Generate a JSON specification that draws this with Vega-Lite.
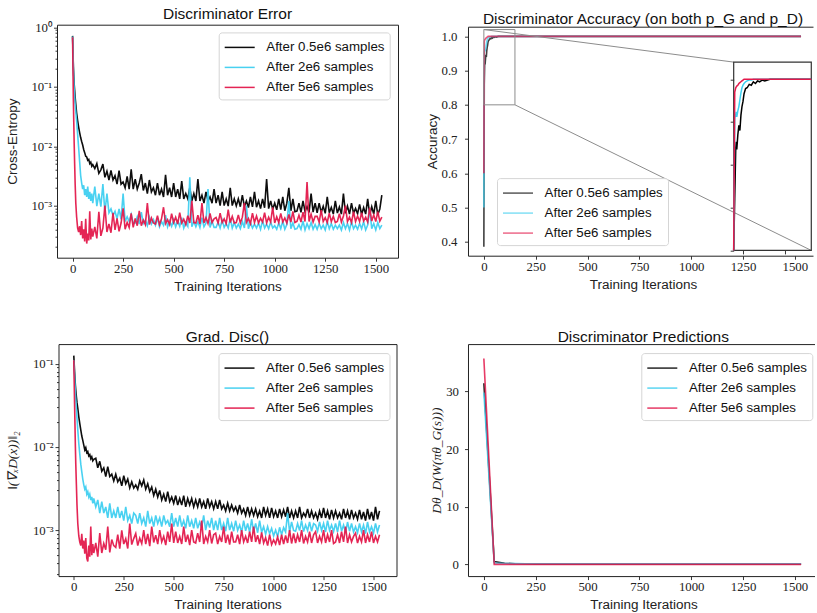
{
"$schema":"https://vega.github.io/schema/vega-lite/v6.json",
"background":"white",
"padding":{"left":4,"top":5.7,"right":0,"bottom":0},
"datasets":{
"ce":[
{"t":0,"a":0.72,"b":0.70,"c":0.68,"d":0.125,"e":0.11,"f":0.11},
{"t":2,"a":0.40,"b":0.38,"c":0.20,"d":0.10,"e":0.088,"f":0.06},
{"t":4,"a":0.22,"b":0.20,"c":0.06,"d":0.08,"e":0.07,"f":0.032},
{"t":6,"a":0.15,"b":0.13,"c":0.025,"d":0.066,"e":0.056,"f":0.018},
{"t":8,"a":0.11,"b":0.09,"c":0.011,"d":0.055,"e":0.045,"f":0.01},
{"t":10,"a":0.09,"b":0.07,"c":0.0055,"d":0.048,"e":0.037,"f":0.0062},
{"t":13,"a":0.065,"b":0.05,"c":0.0022,"d":0.04,"e":0.029,"f":0.0035},
{"t":16,"a":0.05,"b":0.038,"c":0.0011,"d":0.034,"e":0.022,"f":0.002},
{"t":20,"a":0.036,"b":0.027,"c":6.5e-4,"d":0.029,"e":0.016,"f":0.0012},
{"t":25,"a":0.027,"b":0.016,"c":4.2e-4,"d":0.023,"e":0.011,"f":8.5e-4},
{"t":30,"a":0.021,"b":0.0095,"c":3.6e-4,"d":0.019,"e":0.0082,"f":7.2e-4},
{"t":35,"a":0.017,"b":0.0055,"c":4.5e-4,"d":0.016,"e":0.0062,"f":6.5e-4},
{"t":40,"a":0.014,"b":0.0032,"c":3.2e-4,"d":0.0135,"e":0.005,"f":9.0e-4},
{"t":45,"a":0.012,"b":0.0024,"c":5.5e-4,"d":0.012,"e":0.0041,"f":6.0e-4},
{"t":50,"a":0.0105,"b":0.0019,"c":2.8e-4,"d":0.0105,"e":0.0035,"f":7.5e-4},
{"t":55,"a":0.0088,"b":0.0022,"c":4.0e-4,"d":0.0092,"e":0.0031,"f":5.2e-4},
{"t":60,"a":0.0078,"b":0.0015,"c":2.5e-4,"d":0.0098,"e":0.0033,"f":8.0e-4},
{"t":65,"a":0.0068,"b":0.0019,"c":6.0e-4,"d":0.0085,"e":0.0027,"f":4.6e-4},
{"t":70,"a":0.0066,"b":0.0014,"c":2.3e-4,"d":0.0088,"e":0.0029,"f":4.2e-4},
{"t":75,"a":0.0058,"b":0.0021,"c":3.4e-4,"d":0.0078,"e":0.0025,"f":6.5e-4},
{"t":80,"a":0.006,"b":0.0013,"c":2.6e-4,"d":0.0081,"e":0.0027,"f":4.8e-4},
{"t":85,"a":0.0051,"b":0.0017,"c":8.0e-4,"d":0.0072,"e":0.0023,"f":1.1e-3},
{"t":90,"a":0.0054,"b":0.0012,"c":2.7e-4,"d":0.0076,"e":0.0025,"f":5.0e-4},
{"t":95,"a":0.0046,"b":0.0016,"c":4.1e-4,"d":0.0068,"e":0.0021,"f":6.8e-4},
{"t":100,"a":0.0049,"b":0.0011,"c":3.0e-4,"d":0.0071,"e":0.0024,"f":5.3e-4},
{"t":110,"a":4.2e-3,"b":2.1e-3,"c":4.4e-4,"d":7.3e-3,"e":1.9e-3,"f":7.0e-4},
{"t":120,"a":5.1e-3,"b":9.8e-4,"c":2.8e-4,"d":5.6e-3,"e":2.3e-3,"f":4.8e-4},
{"t":130,"a":3.5e-3,"b":1.6e-3,"c":7.9e-4,"d":6.7e-3,"e":1.6e-3,"f":9.2e-4},
{"t":140,"a":4.0e-3,"b":9.6e-4,"c":3.1e-4,"d":5.1e-3,"e":2.2e-3,"f":5.3e-4},
{"t":150,"a":5.0e-3,"b":2.3e-3,"c":4.2e-4,"d":5.6e-3,"e":1.6e-3,"f":6.9e-4},
{"t":160,"a":3.0e-3,"b":7.7e-4,"c":1.0e-3,"d":4.4e-3,"e":1.9e-3,"f":5.8e-4},
{"t":170,"a":3.8e-3,"b":1.6e-3,"c":3.6e-4,"d":5.8e-3,"e":1.4e-3,"f":1.1e-3},
{"t":180,"a":2.7e-3,"b":7.6e-4,"c":4.9e-4,"d":4.4e-3,"e":2.1e-3,"f":5.4e-4},
{"t":190,"a":3.9e-3,"b":8.8e-4,"c":3.5e-4,"d":4.7e-3,"e":1.4e-3,"f":7.7e-4},
{"t":200,"a":2.7e-3,"b":6.8e-4,"c":7.6e-4,"d":3.9e-3,"e":1.7e-3,"f":6.5e-4},
{"t":210,"a":3.2e-3,"b":8.0e-4,"c":3.9e-4,"d":4.7e-3,"e":1.4e-3,"f":6.2e-4},
{"t":220,"a":2.3e-3,"b":6.0e-4,"c":6.1e-4,"d":3.8e-3,"e":1.9e-3,"f":8.8e-4},
{"t":230,"a":3.9e-3,"b":8.8e-4,"c":3.7e-4,"d":4.2e-3,"e":1.4e-3,"f":6.0e-4},
{"t":240,"a":2.3e-3,"b":5.9e-4,"c":5.1e-4,"d":3.4e-3,"e":1.7e-3,"f":9.9e-4},
{"t":250,"a":2.5e-3,"b":1.6e-3,"c":9.0e-4,"d":4.5e-3,"e":1.3e-3,"f":6.8e-4},
{"t":260,"a":2.0e-3,"b":5.4e-4,"c":4.0e-4,"d":3.6e-3,"e":1.9e-3,"f":7.9e-4},
{"t":270,"a":3.1e-3,"b":6.5e-4,"c":5.2e-4,"d":4.1e-3,"e":1.3e-3,"f":6.0e-4},
{"t":280,"a":1.9e-3,"b":5.4e-4,"c":4.3e-4,"d":3.2e-3,"e":1.5e-3,"f":1.2e-3},
{"t":290,"a":4.1e-3,"b":7.1e-4,"c":7.4e-4,"d":3.8e-3,"e":1.2e-3,"f":6.7e-4},
{"t":300,"a":1.9e-3,"b":5.1e-4,"c":4.3e-4,"d":3.2e-3,"e":1.6e-3,"f":7.9e-4},
{"t":310,"a":2.8e-3,"b":5.1e-4,"c":6.1e-4,"d":3.5e-3,"e":1.5e-3,"f":9.1e-4},
{"t":320,"a":1.9e-3,"b":6.5e-4,"c":4.6e-4,"d":3.1e-3,"e":1.2e-3,"f":6.5e-4},
{"t":330,"a":2.4e-3,"b":4.9e-4,"c":8.2e-4,"d":3.9e-3,"e":1.6e-3,"f":8.0e-4},
{"t":340,"a":3.4e-3,"b":7.8e-4,"c":4.6e-4,"d":3.4e-3,"e":1.2e-3,"f":6.9e-4},
{"t":350,"a":1.8e-3,"b":5.0e-4,"c":5.7e-4,"d":4.0e-3,"e":1.4e-3,"f":1.0e-3},
{"t":360,"a":2.4e-3,"b":5.7e-4,"c":4.8e-4,"d":3.1e-3,"e":1.1e-3,"f":6.8e-4},
{"t":370,"a":1.6e-3,"b":4.6e-4,"c":1.1e-3,"d":3.6e-3,"e":1.7e-3,"f":9.0e-4},
{"t":380,"a":2.7e-3,"b":6.4e-4,"c":4.8e-4,"d":2.9e-3,"e":1.2e-3,"f":6.4e-4},
{"t":390,"a":1.7e-3,"b":4.9e-4,"c":6.2e-4,"d":3.3e-3,"e":1.4e-3,"f":1.1e-3},
{"t":400,"a":2.0e-3,"b":5.8e-4,"c":5.1e-4,"d":2.6e-3,"e":1.1e-3,"f":7.1e-4},
{"t":410,"a":1.5e-3,"b":4.7e-4,"c":4.9e-4,"d":3.1e-3,"e":1.5e-3,"f":8.7e-4},
{"t":420,"a":2.4e-3,"b":6.2e-4,"c":6.8e-4,"d":2.5e-3,"e":1.2e-3,"f":6.8e-4},
{"t":430,"a":1.5e-3,"b":4.4e-4,"c":4.8e-4,"d":3.0e-3,"e":1.4e-3,"f":1.0e-3},
{"t":440,"a":1.9e-3,"b":5.4e-4,"c":6.0e-4,"d":2.3e-3,"e":1.1e-3,"f":7.2e-4},
{"t":450,"a":1.4e-3,"b":4.7e-4,"c":9.4e-4,"d":2.7e-3,"e":1.5e-3,"f":8.4e-4},
{"t":460,"a":3.3e-3,"b":6.9e-4,"c":5.0e-4,"d":2.2e-3,"e":1.2e-3,"f":6.6e-4},
{"t":470,"a":1.5e-3,"b":4.4e-4,"c":5.8e-4,"d":2.9e-3,"e":1.3e-3,"f":9.6e-4},
{"t":480,"a":2.0e-3,"b":5.5e-4,"c":4.8e-4,"d":2.2e-3,"e":1.1e-3,"f":7.2e-4},
{"t":490,"a":1.4e-3,"b":4.5e-4,"c":7.3e-4,"d":2.5e-3,"e":1.6e-3,"f":1.2e-3},
{"t":500,"a":2.4e-3,"b":5.8e-4,"c":5.2e-4,"d":2.1e-3,"e":1.1e-3,"f":7.0e-4},
{"t":510,"a":1.4e-3,"b":4.4e-4,"c":6.4e-4,"d":2.6e-3,"e":1.4e-3,"f":9.6e-4},
{"t":520,"a":1.9e-3,"b":5.5e-4,"c":4.9e-4,"d":2.0e-3,"e":1.1e-3,"f":7.0e-4},
{"t":530,"a":1.3e-3,"b":4.5e-4,"c":7.6e-4,"d":2.4e-3,"e":1.5e-3,"f":8.4e-4},
{"t":540,"a":2.6e-3,"b":6.3e-4,"c":5.1e-4,"d":2.0e-3,"e":1.1e-3,"f":6.8e-4},
{"t":550,"a":1.3e-3,"b":4.2e-4,"c":5.9e-4,"d":2.6e-3,"e":1.3e-3,"f":1.1e-3},
{"t":560,"a":1.6e-3,"b":5.2e-4,"c":4.8e-4,"d":1.9e-3,"e":1.05e-3,"f":7.2e-4},
{"t":570,"a":1.3e-3,"b":4.5e-4,"c":6.8e-4,"d":2.4e-3,"e":1.5e-3,"f":8.8e-4},
{"t":580,"a":2.0e-3,"b":3.0e-3,"c":5.1e-4,"d":2.0e-3,"e":1.1e-3,"f":6.6e-4},
{"t":590,"a":1.2e-3,"b":4.4e-4,"c":1.2e-3,"d":2.4e-3,"e":1.3e-3,"f":1.0e-3},
{"t":600,"a":1.6e-3,"b":5.4e-4,"c":5.2e-4,"d":1.9e-3,"e":1.05e-3,"f":7.2e-4},
{"t":610,"a":1.2e-3,"b":4.4e-4,"c":5.1e-4,"d":2.3e-3,"e":1.4e-3,"f":7.0e-4},
{"t":620,"a":2.8e-3,"b":5.4e-4,"c":6.9e-4,"d":1.9e-3,"e":1.05e-3,"f":9.2e-4},
{"t":630,"a":1.2e-3,"b":4.3e-4,"c":4.9e-4,"d":2.4e-3,"e":1.25e-3,"f":7.2e-4},
{"t":640,"a":1.5e-3,"b":6.3e-4,"c":1.1e-3,"d":1.9e-3,"e":1.07e-3,"f":1.3e-3},
{"t":650,"a":1.1e-3,"b":4.4e-4,"c":5.1e-4,"d":2.2e-3,"e":1.5e-3,"f":6.8e-4},
{"t":660,"a":1.7e-3,"b":5.1e-4,"c":6.3e-4,"d":1.8e-3,"e":1.0e-3,"f":8.4e-4},
{"t":670,"a":1.2e-3,"b":1.9e-3,"c":5.0e-4,"d":2.4e-3,"e":1.3e-3,"f":7.2e-4},
{"t":680,"a":1.4e-3,"b":4.3e-4,"c":7.4e-4,"d":1.9e-3,"e":1.07e-3,"f":1.0e-3},
{"t":690,"a":1.1e-3,"b":5.5e-4,"c":5.2e-4,"d":2.2e-3,"e":1.4e-3,"f":6.9e-4},
{"t":700,"a":1.9e-3,"b":4.3e-4,"c":6.0e-4,"d":1.8e-3,"e":1.0e-3,"f":8.8e-4},
{"t":710,"a":1.1e-3,"b":4.3e-4,"c":6.3e-4,"d":2.2e-3,"e":1.3e-3,"f":9.2e-4},
{"t":720,"a":1.5e-3,"b":5.3e-4,"c":5.1e-4,"d":1.8e-3,"e":1.0e-3,"f":6.8e-4},
{"t":730,"a":1.0e-3,"b":4.2e-4,"c":7.5e-4,"d":2.3e-3,"e":1.4e-3,"f":8.4e-4},
{"t":740,"a":1.7e-3,"b":5.7e-4,"c":5.2e-4,"d":1.8e-3,"e":1.0e-3,"f":7.2e-4},
{"t":750,"a":1.0e-3,"b":4.3e-4,"c":6.0e-4,"d":2.0e-3,"e":1.2e-3,"f":1.1e-3},
{"t":760,"a":1.3e-3,"b":5.0e-4,"c":5.0e-4,"d":1.7e-3,"e":9.7e-4,"f":7.0e-4},
{"t":770,"a":9.8e-4,"b":4.2e-4,"c":8.6e-4,"d":2.1e-3,"e":1.4e-3,"f":8.8e-4},
{"t":780,"a":2.0e-3,"b":6.1e-4,"c":5.2e-4,"d":1.7e-3,"e":1.0e-3,"f":6.7e-4},
{"t":790,"a":1.0e-3,"b":4.2e-4,"c":6.6e-4,"d":2.0e-3,"e":1.2e-3,"f":9.6e-4},
{"t":800,"a":1.3e-3,"b":5.2e-4,"c":5.1e-4,"d":1.7e-3,"e":9.7e-4,"f":7.2e-4},
{"t":810,"a":9.9e-4,"b":4.2e-4,"c":5.2e-4,"d":1.9e-3,"e":1.3e-3,"f":7.2e-4},
{"t":820,"a":1.3e-3,"b":4.9e-4,"c":7.0e-4,"d":1.6e-3,"e":9.9e-4,"f":8.8e-4},
{"t":830,"a":9.6e-4,"b":4.1e-4,"c":5.1e-4,"d":2.0e-3,"e":1.15e-3,"f":6.8e-4},
{"t":840,"a":1.5e-3,"b":5.4e-4,"c":6.4e-4,"d":1.6e-3,"e":9.4e-4,"f":1.0e-3},
{"t":850,"a":9.7e-4,"b":4.2e-4,"c":1.1e-3,"d":1.8e-3,"e":1.3e-3,"f":7.2e-4},
{"t":860,"a":1.2e-3,"b":1.0e-3,"c":5.2e-4,"d":1.5e-3,"e":9.8e-4,"f":8.4e-4},
{"t":870,"a":9.3e-4,"b":4.1e-4,"c":6.1e-4,"d":1.9e-3,"e":1.2e-3,"f":7.0e-4},
{"t":880,"a":1.4e-3,"b":5.2e-4,"c":5.0e-4,"d":1.5e-3,"e":9.4e-4,"f":9.6e-4},
{"t":890,"a":9.5e-4,"b":4.2e-4,"c":7.5e-4,"d":1.8e-3,"e":1.35e-3,"f":7.2e-4},
{"t":900,"a":1.7e-3,"b":4.9e-4,"c":5.2e-4,"d":1.5e-3,"e":9.6e-4,"f":1.1e-3},
{"t":910,"a":9.4e-4,"b":4.2e-4,"c":6.7e-4,"d":1.8e-3,"e":1.2e-3,"f":7.2e-4},
{"t":920,"a":1.2e-3,"b":5.1e-4,"c":5.1e-4,"d":1.45e-3,"e":9.3e-4,"f":8.7e-4},
{"t":930,"a":8.9e-4,"b":4.0e-4,"c":6.1e-4,"d":1.7e-3,"e":1.3e-3,"f":6.8e-4},
{"t":940,"a":1.3e-3,"b":5.6e-4,"c":5.3e-4,"d":1.4e-3,"e":9.4e-4,"f":9.4e-4},
{"t":950,"a":9.2e-4,"b":4.2e-4,"c":7.6e-4,"d":1.9e-3,"e":1.1e-3,"f":7.0e-4},
{"t":960,"a":2.8e-3,"b":4.9e-4,"c":5.1e-4,"d":1.5e-3,"e":8.9e-4,"f":8.1e-4},
{"t":970,"a":8.9e-4,"b":4.1e-4,"c":6.4e-4,"d":1.8e-3,"e":1.1e-3,"f":6.5e-4},
{"t":980,"a":1.2e-3,"b":5.3e-4,"c":5.3e-4,"d":1.4e-3,"e":9.0e-4,"f":8.8e-4},
{"t":990,"a":8.7e-4,"b":4.2e-4,"c":9.4e-4,"d":1.85e-3,"e":1.05e-3,"f":6.7e-4},
{"t":1000,"a":1.1e-3,"b":4.6e-4,"c":5.1e-4,"d":1.45e-3,"e":8.5e-4,"f":7.6e-4},
{"t":1010,"a":8.5e-4,"b":4.0e-4,"c":6.5e-4,"d":1.7e-3,"e":1.0e-3,"f":6.8e-4},
{"t":1020,"a":1.3e-3,"b":5.1e-4,"c":5.2e-4,"d":1.4e-3,"e":8.3e-4,"f":8.3e-4},
{"t":1030,"a":8.6e-4,"b":4.1e-4,"c":7.4e-4,"d":1.8e-3,"e":1.08e-3,"f":6.6e-4},
{"t":1040,"a":1.4e-3,"b":5.5e-4,"c":5.3e-4,"d":1.45e-3,"e":8.8e-4,"f":8.8e-4},
{"t":1050,"a":8.2e-4,"b":4.0e-4,"c":6.2e-4,"d":1.75e-3,"e":1.07e-3,"f":6.8e-4},
{"t":1060,"a":1.1e-3,"b":4.8e-4,"c":5.1e-4,"d":1.45e-3,"e":9.5e-4,"f":8.6e-4},
{"t":1070,"a":2.0e-3,"b":1.2e-3,"c":7.1e-4,"d":1.9e-3,"e":1.6e-3,"f":7.0e-4},
{"t":1080,"a":8.2e-4,"b":4.1e-4,"c":5.3e-4,"d":1.4e-3,"e":9.5e-4,"f":1.0e-3},
{"t":1090,"a":1.3e-3,"b":5.1e-4,"c":8.0e-4,"d":1.7e-3,"e":1.25e-3,"f":6.9e-4},
{"t":1100,"a":7.9e-4,"b":4.0e-4,"c":5.2e-4,"d":1.4e-3,"e":9.9e-4,"f":9.1e-4},
{"t":1110,"a":8.1e-4,"b":4.1e-4,"c":5.4e-4,"d":1.7e-3,"e":9.7e-4,"f":7.0e-4},
{"t":1120,"a":1.1e-3,"b":4.8e-4,"c":6.9e-4,"d":1.4e-3,"e":1.2e-3,"f":8.8e-4},
{"t":1130,"a":7.7e-4,"b":4.0e-4,"c":5.3e-4,"d":1.9e-3,"e":9.9e-4,"f":7.2e-4},
{"t":1140,"a":1.2e-3,"b":5.5e-4,"c":7.8e-4,"d":1.4e-3,"e":1.3e-3,"f":1.0e-3},
{"t":1150,"a":8.0e-4,"b":3.9e-4,"c":5.4e-4,"d":1.6e-3,"e":9.6e-4,"f":6.9e-4},
{"t":1160,"a":9.7e-4,"b":5.0e-4,"c":2.5e-3,"d":1.45e-3,"e":1.15e-3,"f":8.4e-4},
{"t":1170,"a":7.7e-4,"b":4.1e-4,"c":5.4e-4,"d":1.8e-3,"e":9.9e-4,"f":7.2e-4},
{"t":1180,"a":1.6e-3,"b":5.2e-4,"c":7.2e-4,"d":1.4e-3,"e":1.25e-3,"f":9.6e-4},
{"t":1190,"a":7.8e-4,"b":4.0e-4,"c":5.3e-4,"d":1.7e-3,"e":9.7e-4,"f":7.0e-4},
{"t":1200,"a":1.1e-3,"b":4.8e-4,"c":6.6e-4,"d":1.4e-3,"e":1.2e-3,"f":8.8e-4},
{"t":1210,"a":7.6e-4,"b":4.0e-4,"c":6.6e-4,"d":1.6e-3,"e":1.15e-3,"f":9.6e-4},
{"t":1220,"a":1.1e-3,"b":5.0e-4,"c":5.3e-4,"d":1.35e-3,"e":9.7e-4,"f":7.0e-4},
{"t":1230,"a":7.7e-4,"b":4.1e-4,"c":8.4e-4,"d":1.7e-3,"e":1.25e-3,"f":8.4e-4},
{"t":1240,"a":9.8e-4,"b":4.7e-4,"c":5.4e-4,"d":1.4e-3,"e":9.9e-4,"f":7.2e-4},
{"t":1250,"a":7.4e-4,"b":3.9e-4,"c":6.3e-4,"d":1.85e-3,"e":1.2e-3,"f":1.0e-3},
{"t":1260,"a":1.4e-3,"b":5.4e-4,"c":5.2e-4,"d":1.4e-3,"e":9.5e-4,"f":7.0e-4},
{"t":1270,"a":7.6e-4,"b":4.1e-4,"c":7.5e-4,"d":1.7e-3,"e":1.3e-3,"f":8.8e-4},
{"t":1280,"a":9.3e-4,"b":5.0e-4,"c":5.4e-4,"d":1.35e-3,"e":9.9e-4,"f":7.2e-4},
{"t":1290,"a":7.2e-4,"b":4.0e-4,"c":6.6e-4,"d":1.75e-3,"e":1.15e-3,"f":1.0e-3},
{"t":1300,"a":1.2e-3,"b":4.7e-4,"c":5.2e-4,"d":1.4e-3,"e":9.6e-4,"f":6.9e-4},
{"t":1310,"a":7.5e-4,"b":4.1e-4,"c":5.4e-4,"d":1.7e-3,"e":1.2e-3,"f":7.2e-4},
{"t":1320,"a":9.5e-4,"b":4.7e-4,"c":7.3e-4,"d":1.4e-3,"e":9.5e-4,"f":8.8e-4},
{"t":1330,"a":7.2e-4,"b":3.9e-4,"c":5.3e-4,"d":1.6e-3,"e":1.3e-3,"f":7.0e-4},
{"t":1340,"a":1.6e-3,"b":5.2e-4,"c":6.7e-4,"d":1.35e-3,"e":9.7e-4,"f":9.6e-4},
{"t":1350,"a":7.4e-4,"b":4.1e-4,"c":1.0e-3,"d":1.8e-3,"e":1.15e-3,"f":7.2e-4},
{"t":1360,"a":9.8e-4,"b":5.0e-4,"c":5.4e-4,"d":1.4e-3,"e":9.4e-4,"f":1.1e-3},
{"t":1370,"a":7.2e-4,"b":3.9e-4,"c":6.4e-4,"d":1.7e-3,"e":1.25e-3,"f":7.0e-4},
{"t":1380,"a":1.1e-3,"b":5.4e-4,"c":5.2e-4,"d":1.35e-3,"e":9.7e-4,"f":8.8e-4},
{"t":1390,"a":7.4e-4,"b":4.1e-4,"c":7.9e-4,"d":1.75e-3,"e":1.2e-3,"f":7.2e-4},
{"t":1400,"a":9.0e-4,"b":4.7e-4,"c":5.4e-4,"d":1.4e-3,"e":9.5e-4,"f":8.4e-4},
{"t":1410,"a":7.3e-4,"b":4.0e-4,"c":6.7e-4,"d":1.6e-3,"e":1.1e-3,"f":9.2e-4},
{"t":1420,"a":1.05e-3,"b":5.0e-4,"c":5.4e-4,"d":1.35e-3,"e":9.3e-4,"f":7.0e-4},
{"t":1430,"a":7.1e-4,"b":4.1e-4,"c":7.6e-4,"d":1.75e-3,"e":1.2e-3,"f":8.4e-4},
{"t":1440,"a":9.3e-4,"b":5.4e-4,"c":5.5e-4,"d":1.35e-3,"e":9.5e-4,"f":7.2e-4},
{"t":1450,"a":7.2e-4,"b":3.9e-4,"c":6.4e-4,"d":1.65e-3,"e":1.15e-3,"f":1.0e-3},
{"t":1460,"a":1.3e-3,"b":4.7e-4,"c":5.3e-4,"d":1.3e-3,"e":9.1e-4,"f":7.0e-4},
{"t":1470,"a":7.0e-4,"b":9.0e-4,"c":9.2e-4,"d":1.8e-3,"e":1.25e-3,"f":8.8e-4},
{"t":1480,"a":9.6e-4,"b":4.1e-4,"c":5.5e-4,"d":1.35e-3,"e":9.5e-4,"f":7.2e-4},
{"t":1490,"a":7.2e-4,"b":5.0e-4,"c":7.0e-4,"d":1.65e-3,"e":1.1e-3,"f":9.6e-4},
{"t":1500,"a":1.2e-3,"b":3.9e-4,"c":5.4e-4,"d":1.3e-3,"e":9.2e-4,"f":7.0e-4},
{"t":1510,"a":7.0e-4,"b":5.2e-4,"c":7.9e-4,"d":1.9e-3,"e":1.2e-3,"f":8.4e-4},
{"t":1520,"a":8.8e-4,"b":4.1e-4,"c":5.5e-4,"d":1.35e-3,"e":9.5e-4,"f":7.2e-4},
{"t":1530,"a":1.5e-3,"b":4.7e-4,"c":6.4e-4,"d":1.7e-3,"e":1.15e-3,"f":8.8e-4}
],
"acc":[
{"t":0,"a":0.385,"b":0.5,"c":0.6},
{"t":2,"a":0.86,"b":0.955,"c":0.985},
{"t":4,"a":0.92,"b":0.958,"c":0.99},
{"t":5,"a":0.927,"b":0.962,"c":0.991},
{"t":6,"a":0.918,"b":0.956,"c":0.992},
{"t":8,"a":0.935,"b":0.963,"c":0.993},
{"t":10,"a":0.946,"b":0.968,"c":0.995},
{"t":12,"a":0.94,"b":0.976,"c":0.996},
{"t":14,"a":0.958,"b":0.984,"c":0.997},
{"t":16,"a":0.968,"b":0.99,"c":0.998},
{"t":18,"a":0.974,"b":0.993,"c":0.999},
{"t":20,"a":0.983,"b":0.995,"c":1.0},
{"t":23,"a":0.989,"b":0.997,"c":1.0},
{"t":26,"a":0.99,"b":0.998,"c":1.0},
{"t":30,"a":0.994,"b":0.999,"c":1.0},
{"t":34,"a":0.993,"b":0.999,"c":1.0},
{"t":38,"a":0.997,"b":1.0,"c":1.0},
{"t":42,"a":0.995,"b":1.0,"c":1.0},
{"t":46,"a":0.998,"b":1.0,"c":1.0},
{"t":50,"a":0.997,"b":1.0,"c":1.0},
{"t":55,"a":0.999,"b":1.0,"c":1.0},
{"t":60,"a":0.998,"b":1.0,"c":1.0},
{"t":70,"a":1.0,"b":1.0,"c":1.0},
{"t":80,"a":1.0,"b":1.0,"c":1.0},
{"t":100,"a":1.0,"b":1.0,"c":1.0},
{"t":150,"a":1.0,"b":1.0,"c":1.0},
{"t":300,"a":1.0,"b":1.0,"c":1.0},
{"t":600,"a":1.0,"b":1.0,"c":1.0},
{"t":900,"a":1.0,"b":1.0,"c":1.0},
{"t":1200,"a":1.0,"b":1.0,"c":1.0},
{"t":1530,"a":1.0,"b":1.0,"c":1.0}
],
"pred":[
{"t":0,"a":31.4,"b":29.8,"c":35.7},
{"t":50,"a":0.5,"b":0.25,"c":0.0},
{"t":100,"a":0.2,"b":0.15,"c":0.0},
{"t":150,"a":0.1,"b":0.13,"c":0.0},
{"t":200,"a":0.07,"b":0.12,"c":0.0},
{"t":250,"a":0.05,"b":0.12,"c":0.0},
{"t":300,"a":0.05,"b":0.12,"c":0.0},
{"t":350,"a":0.05,"b":0.12,"c":0.0},
{"t":400,"a":0.05,"b":0.12,"c":0.0},
{"t":450,"a":0.05,"b":0.12,"c":0.0},
{"t":500,"a":0.05,"b":0.12,"c":0.0},
{"t":550,"a":0.05,"b":0.12,"c":0.0},
{"t":600,"a":0.05,"b":0.12,"c":0.0},
{"t":650,"a":0.05,"b":0.12,"c":0.0},
{"t":700,"a":0.05,"b":0.12,"c":0.0},
{"t":750,"a":0.05,"b":0.12,"c":0.0},
{"t":800,"a":0.05,"b":0.12,"c":0.0},
{"t":850,"a":0.05,"b":0.12,"c":0.0},
{"t":900,"a":0.05,"b":0.12,"c":0.0},
{"t":950,"a":0.05,"b":0.12,"c":0.0},
{"t":1000,"a":0.05,"b":0.12,"c":0.0},
{"t":1050,"a":0.05,"b":0.12,"c":0.0},
{"t":1100,"a":0.05,"b":0.12,"c":0.0},
{"t":1150,"a":0.05,"b":0.12,"c":0.0},
{"t":1200,"a":0.05,"b":0.12,"c":0.0},
{"t":1250,"a":0.05,"b":0.12,"c":0.0},
{"t":1300,"a":0.05,"b":0.12,"c":0.0},
{"t":1350,"a":0.05,"b":0.12,"c":0.0},
{"t":1400,"a":0.05,"b":0.12,"c":0.0},
{"t":1450,"a":0.05,"b":0.12,"c":0.0},
{"t":1500,"a":0.05,"b":0.12,"c":0.0},
{"t":1530,"a":0.05,"b":0.12,"c":0.0}
]
},
"columns":2,
"spacing":{"row":86.4,"column":70},
"bounds":"flush",
"center":true,
"resolve":{"scale":{"color":"independent"},"legend":{"color":"independent"}},
"concat":[
 {"width":341,"height":233,
  "title":{"text":"Discriminator Error"},
  "data":{"name":"ce"},
  "transform":[{"fold":["a","b","c"],"as":["s","v"]}],
  "mark":{"type":"line","strokeWidth":1.6,"opacity":0.95},
  "encoding":{
   "x":{"field":"t","type":"quantitative","scale":{"domain":[-77,1610],"nice":false,"zero":false},"axis":{"values":[0,250,500,750,1000,1250,1500],"format":"d","title":"Training Iterations"}},
   "y":{"field":"v","type":"quantitative","scale":{"type":"log","domain":[0.000133,1.11],"nice":false},
        "axis":{"values":[0.0002,0.0003,0.0004,0.0005,0.0006,0.0007,0.0008,0.0009,0.001,0.002,0.003,0.004,0.005,0.006,0.007,0.008,0.009,0.01,0.02,0.03,0.04,0.05,0.06,0.07,0.08,0.09,0.1,0.2,0.3,0.4,0.5,0.6,0.7,0.8,0.9,1],
                "labelExpr":"abs(log(datum.value)/LN10 - round(log(datum.value)/LN10)) < 0.001 ? (round(log(datum.value)/LN10) == 0 ? '10⁰' : round(log(datum.value)/LN10) == -1 ? '10⁻¹' : round(log(datum.value)/LN10) == -2 ? '10⁻²' : '10⁻³') : ''",
                "tickSize":{"condition":{"test":"abs(log(datum.value)/LN10 - round(log(datum.value)/LN10)) < 0.001","value":3.5},"value":2},
                "title":"Cross-Entropy","titleX":-45,"titleY":116.5,"labelPadding":2}},
   "color":{"field":"s","type":"nominal","scale":{"domain":["a","b","c"],"range":["#000000","#3fcff0","#e3194b"]},
            "legend":{"title":null,"orient":"none","legendX":161.7,"legendY":7.7,"labelExpr":"datum.label == 'a' || datum.label == 'd' ? 'After 0.5e6 samples' : datum.label == 'b' || datum.label == 'e' ? 'After 2e6 samples' : 'After 5e6 samples'"}}
  }},
 {"width":345,"height":229,
  "title":{"text":"Discriminator Accuracy (on both p_G and p_D)","dx":2.5},
  "view":{"stroke":null},
  "resolve":{"scale":{"x":"independent","y":"independent","color":"independent"},"axis":{"x":"independent","y":"independent"},"legend":{"color":"independent"}},
  "layer":[
   {"resolve":{"axis":{"x":"independent"}},
    "layer":[
     {"data":{"name":"acc"},"transform":[{"fold":["a","b","c"],"as":["s","v"]}],
      "mark":{"type":"line","strokeWidth":1.6,"opacity":0.75},
      "encoding":{
       "x":{"field":"t","type":"quantitative","scale":{"domain":[-76.5,1587.7],"nice":false,"zero":false},"axis":{"values":[0,250,500,750,1000,1250,1500],"format":"d","title":"Training Iterations","domain":true,"titleX":175}},
       "y":{"field":"v","type":"quantitative","scale":{"domain":[0.359,1.0284],"nice":false,"zero":false},"axis":{"values":[0.4,0.5,0.6,0.7,0.8,0.9,1.0],"format":".1f","title":"Accuracy","domain":true,"titleX":-35,"titleY":114.5,"labelPadding":7.5}},
       "color":{"field":"s","type":"nominal","scale":{"domain":["a","b","c"],"range":["#000000","#3fcff0","#e3194b"]},
                "legend":{"title":null,"orient":"none","legendX":29,"legendY":151.4,"symbolOpacity":0.65,"labelExpr":"datum.label == 'a' || datum.label == 'd' ? 'After 0.5e6 samples' : datum.label == 'b' || datum.label == 'e' ? 'After 2e6 samples' : 'After 5e6 samples'"}}
      }},
     {"data":{"values":[{"x0":0,"x1":150,"y0":0.8,"y1":1.02}]},
      "mark":{"type":"rect","fillOpacity":0,"stroke":"#8c8c8c","strokeWidth":1},
      "encoding":{
       "x":{"field":"x0","type":"quantitative","scale":{"domain":[-76.5,1587.7],"nice":false,"zero":false},"axis":null},
       "x2":{"field":"x1"},
       "y":{"field":"y0","type":"quantitative","scale":{"domain":[0.359,1.0284],"nice":false,"zero":false},"axis":{"values":[0.4,0.5,0.6,0.7,0.8,0.9,1.0],"format":".1f","title":"Accuracy","domain":true,"titleX":-35,"titleY":114.5,"labelPadding":7.5}},
       "y2":{"field":"y1"}}},
     {"data":{"values":[{"x0":0,"y0":1.02,"x1":1204.9,"y1":0.9249},{"x0":150,"y0":0.8,"x1":1579.2,"y1":0.3745}]},
      "mark":{"type":"rule","stroke":"#8c8c8c","strokeWidth":1},
      "encoding":{
       "x":{"field":"x0","type":"quantitative","scale":{"domain":[-76.5,1587.7],"nice":false,"zero":false},"axis":null},
       "x2":{"field":"x1"},
       "y":{"field":"y0","type":"quantitative","scale":{"domain":[0.359,1.0284],"nice":false,"zero":false},"axis":{"values":[0.4,0.5,0.6,0.7,0.8,0.9,1.0],"format":".1f","title":"Accuracy","domain":true,"titleX":-35,"titleY":114.5,"labelPadding":7.5}},
       "y2":{"field":"y1"}}},
     {"data":{"values":[{"t":0}]},
      "mark":{"type":"point","opacity":0},
      "encoding":{"x":{"field":"t","type":"quantitative","scale":{"domain":[-76.5,1587.7],"nice":false,"zero":false},"axis":{"orient":"top","labels":false,"ticks":false,"domain":true,"title":null}}}}
    ]},
   {"layer":[
     {"data":{"values":[{"x0":0,"x1":150,"y0":0.8,"y1":1.02}]},
      "mark":{"type":"rect","fillOpacity":0,"stroke":"#333333","strokeWidth":1.2},
      "encoding":{
       "x":{"field":"x0","type":"quantitative","scale":{"domain":[0,150],"range":[265.7,343.3],"clamp":true,"nice":false,"zero":false},"axis":{"orient":"bottom","offset":-5.3,"values":[18,100],"labels":false,"domain":false,"title":null,"tickSize":3.5}},
       "x2":{"field":"x1"},
       "y":{"field":"y0","type":"quantitative","scale":{"domain":[0.8,1.02],"range":[223.7,35.4],"clamp":true,"nice":false,"zero":false},"axis":{"orient":"left","offset":-265.7,"values":[0.8,0.85,0.9,0.95,1.0],"labels":false,"domain":false,"title":null,"tickSize":3.5}},
       "y2":{"field":"y1"}}},
     {"data":{"name":"acc"},"transform":[{"filter":"datum.t <= 150"},{"fold":["a","b","c"],"as":["s","v"]}],
      "mark":{"type":"line","strokeWidth":1.5},
      "encoding":{
       "x":{"field":"t","type":"quantitative","scale":{"domain":[0,150],"range":[265.7,343.3],"clamp":true,"nice":false,"zero":false},"axis":{"orient":"bottom","offset":-5.3,"values":[18,100],"labels":false,"domain":false,"title":null,"tickSize":3.5}},
       "y":{"field":"v","type":"quantitative","scale":{"domain":[0.8,1.02],"range":[223.7,35.4],"clamp":true,"nice":false,"zero":false},"axis":{"orient":"left","offset":-265.7,"values":[0.8,0.85,0.9,0.95,1.0],"labels":false,"domain":false,"title":null,"tickSize":3.5}},
       "color":{"field":"s","type":"nominal","scale":{"domain":["a","b","c"],"range":["#000000","#3fcff0","#e3194b"]},"legend":null}}}
   ]}
  ]},
 {"width":338,"height":232,
  "title":{"text":"Grad. Disc()"},
  "data":{"name":"ce"},
  "transform":[{"fold":["d","e","f"],"as":["s","v"]}],
  "mark":{"type":"line","strokeWidth":1.6,"opacity":0.95},
  "encoding":{
   "x":{"field":"t","type":"quantitative","scale":{"domain":[-76.5,1615],"nice":false,"zero":false},"axis":{"values":[0,250,500,750,1000,1250,1500],"format":"d","title":"Training Iterations"}},
   "y":{"field":"v","type":"quantitative","scale":{"type":"log","domain":[0.00028,0.172],"nice":false},
        "axis":{"values":[0.0003,0.0004,0.0005,0.0006,0.0007,0.0008,0.0009,0.001,0.002,0.003,0.004,0.005,0.006,0.007,0.008,0.009,0.01,0.02,0.03,0.04,0.05,0.06,0.07,0.08,0.09,0.1],
                "labelExpr":"abs(log(datum.value)/LN10 - round(log(datum.value)/LN10)) < 0.001 ? (round(log(datum.value)/LN10) == 0 ? '10⁰' : round(log(datum.value)/LN10) == -1 ? '10⁻¹' : round(log(datum.value)/LN10) == -2 ? '10⁻²' : '10⁻³') : ''",
                "tickSize":{"condition":{"test":"abs(log(datum.value)/LN10 - round(log(datum.value)/LN10)) < 0.001","value":3.5},"value":2},
                "title":"‖(∇ₓD(x))‖₂","titleFont":"Liberation Serif","titleFontStyle":"italic","titleX":-46.5,"titleY":116,"labelPadding":2}},
   "color":{"field":"s","type":"nominal","scale":{"domain":["d","e","f"],"range":["#000000","#3fcff0","#e3194b"]},
            "legend":{"title":null,"orient":"none","legendX":160,"legendY":9,"labelExpr":"datum.label == 'a' || datum.label == 'd' ? 'After 0.5e6 samples' : datum.label == 'b' || datum.label == 'e' ? 'After 2e6 samples' : 'After 5e6 samples'"}}
  }},
 {"width":347,"height":232,
  "title":{"text":"Discriminator Predictions","dx":1.8},
  "view":{"stroke":null},
  "resolve":{"axis":{"x":"independent"}},
  "layer":[
   {"data":{"name":"pred"},"transform":[{"fold":["a","b","c"],"as":["s","v"]}],
    "mark":{"type":"line","strokeWidth":1.6,"opacity":0.85},
    "encoding":{
     "x":{"field":"t","type":"quantitative","scale":{"domain":[-76.5,1597],"nice":false,"zero":false},"axis":{"values":[0,250,500,750,1000,1250,1500],"format":"d","title":"Training Iterations","domain":true,"titleX":175.5}},
     "y":{"field":"v","type":"quantitative","scale":{"domain":[-2.03,38.19],"nice":false,"zero":false},"axis":{"values":[0,10,20,30],"title":"Dθ_D(W(πθ_G(s)))","titleFont":"Liberation Serif","titleFontStyle":"italic","domain":true,"titleX":-31,"titleY":116,"labelPadding":6}},
     "color":{"field":"s","type":"nominal","scale":{"domain":["a","b","c"],"range":["#000000","#3fcff0","#e3194b"]},
              "legend":{"title":null,"orient":"none","legendX":173.3,"legendY":9,"labelExpr":"datum.label == 'a' || datum.label == 'd' ? 'After 0.5e6 samples' : datum.label == 'b' || datum.label == 'e' ? 'After 2e6 samples' : 'After 5e6 samples'"}}
    }},
   {"data":{"values":[{"t":0}]},
    "mark":{"type":"point","opacity":0},
    "encoding":{"x":{"field":"t","type":"quantitative","scale":{"domain":[-76.5,1597],"nice":false,"zero":false},"axis":{"orient":"top","labels":false,"ticks":false,"domain":true,"title":null}}}}
  ]}
],
"config":{
 "font":"Liberation Sans",
 "view":{"stroke":"#222222","strokeWidth":1},
 "axis":{"grid":false,"domain":false,"domainColor":"#222222","domainWidth":1,"labelFont":"Liberation Serif","labelFontSize":12.8,"labelColor":"#222222","labelPadding":3,"labelFlush":false,"labelOverlap":false,"tickColor":"#222222","tickSize":3.5,"tickWidth":0.9,"titleFont":"Liberation Sans","titleFontSize":13.5,"titleFontWeight":"normal","titleColor":"#222222"},
 "axisX":{"titleY":32.7,"titleBaseline":"alphabetic","labelPadding":1},
 "axisY":{"titleAngle":270,"titleBaseline":"middle","titleAlign":"center"},
 "title":{"font":"Liberation Sans","fontSize":15.5,"fontWeight":"normal","color":"#111111","frame":"group","baseline":"alphabetic","offset":-1.2,"anchor":"middle"},
 "legend":{"orient":"none","symbolType":"M-1.667,0H1.667","symbolSize":324,"symbolStrokeWidth":1.5,"symbolOffset":6,"labelOffset":16.6,"labelFont":"Liberation Sans","labelFontSize":13.3,"labelColor":"#111111","padding":5,"rowPadding":3,"strokeColor":"#d5d5d5","fillColor":"rgba(255,255,255,0.85)","cornerRadius":3}
}
}
